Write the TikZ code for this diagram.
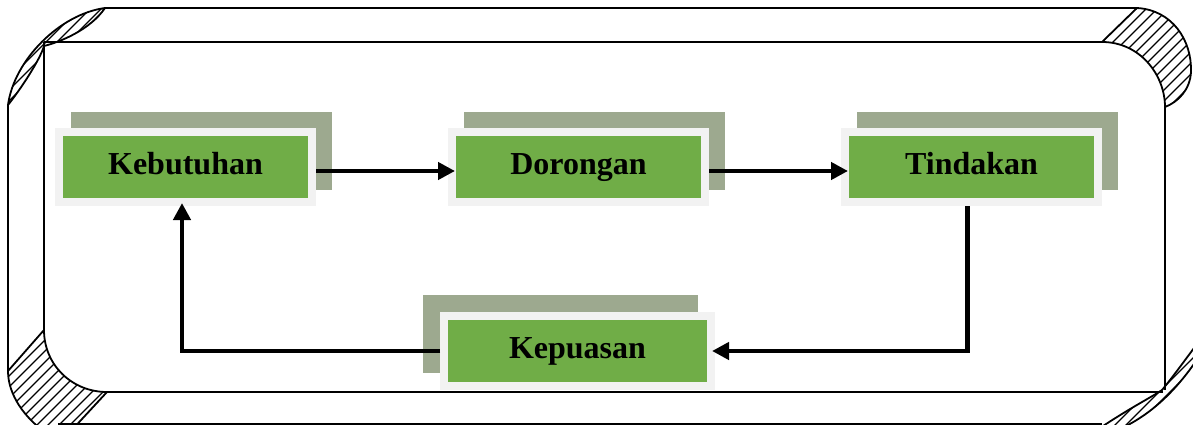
\documentclass[tikz,border=0pt]{standalone}
\usepackage{fontspec}
\setmainfont{Liberation Serif}
\usetikzlibrary{arrows.meta}
\definecolor{boxgreen}{HTML}{70AD47}
\definecolor{boxrim}{HTML}{F2F2F2}
\definecolor{boxshadow}{HTML}{9DA98F}
\pgfdeclarelayer{bg}
\pgfsetlayers{bg,main}
\begin{document}
\begin{tikzpicture}[x=1pt,y=-1pt,
  frameline/.style={line width=1.8pt, line join=round},
  hatchline/.style={line width=1.3pt},
  stepbox/.style={rectangle, fill=boxgreen, draw=boxrim, line width=8pt,
    minimum width=253pt, minimum height=70pt, inner sep=0pt, outer sep=4pt,
    text height=22pt, text depth=8pt,
    font=\fontsize{32}{38}\selectfont\bfseries},
  conn/.style={line width=4.5pt, -{Triangle[length=17pt,width=17pt]}},
]
\useasboundingbox (0,0) rectangle (1193,425);
\clip (0,0) rectangle (1193,425);

% hatched corners
\begin{scope}
\clip (8,105) .. controls (14,60) and (60,14) .. (105,8) .. controls (90,30) and (60,42) .. (44,46) .. controls (40,60) and (20,90) .. (8,105) -- cycle;
\foreach \c in {0,11,...,1700} \draw[hatchline] (\c,0) -- ++(-600,600);
\end{scope}
\begin{scope}
\clip (1102,42) -- (1137,8) .. controls (1172,10) and (1192,40) .. (1191,72) .. controls (1190,90) and (1178,102) .. (1165,107) .. controls (1165,75) and (1140,42) .. (1102,42) -- cycle;
\foreach \c in {0,11,...,1700} \draw[hatchline] (\c,0) -- ++(-600,600);
\end{scope}
\begin{scope}
\clip (44,330) .. controls (44,365) and (72,392) .. (107,392) -- (70,432) -- (45,432) .. controls (25,418) and (8,395) .. (8,371) -- cycle;
\foreach \c in {0,11,...,1700} \draw[hatchline] (\c,0) -- ++(-600,600);
\end{scope}
\begin{scope}
\clip (1100,428) .. controls (1130,408) and (1150,398) .. (1162,390) .. controls (1172,378) and (1185,360) .. (1200,340) -- (1200,355) .. controls (1185,378) and (1160,410) .. (1122,428) -- cycle;
\foreach \c in {0,11,...,1700} \draw[hatchline] (\c,0) -- ++(-600,600);
\end{scope}

% crescent outlines
\draw[frameline] (8,105) .. controls (14,60) and (60,14) .. (105,8) .. controls (90,30) and (60,42) .. (44,46) .. controls (40,60) and (20,90) .. (8,105) -- cycle;
\draw[frameline] (1102,42) -- (1137,8) .. controls (1172,10) and (1192,40) .. (1191,72) .. controls (1190,90) and (1178,102) .. (1165,107) .. controls (1165,75) and (1140,42) .. (1102,42) -- cycle;
\draw[frameline] (44,330) .. controls (44,365) and (72,392) .. (107,392) -- (70,432) -- (45,432) .. controls (25,418) and (8,395) .. (8,371) -- cycle;
\draw[frameline] (1100,428) .. controls (1130,408) and (1150,398) .. (1162,390) .. controls (1172,378) and (1185,360) .. (1200,340) -- (1200,355) .. controls (1185,378) and (1160,410) .. (1122,428) -- cycle;

% frame lines
\draw[frameline] (105,8) -- (1137,8);
\draw[frameline] (8,105) -- (8,371);
\draw[frameline] (58,424) -- (1102,424);
\draw[frameline] (44,42) -- (1102,42);
\draw[frameline] (44,42) -- (44,330);
\draw[frameline] (1165,107) -- (1165,390);
\draw[frameline] (107,392) -- (1163,392);

% boxes
\node[stepbox] (keb) at (185.5,167) {Kebutuhan};
\node[stepbox] (dor) at (578.5,167) {Dorongan};
\node[stepbox] (tin) at (971.5,167) {Tindakan};
\node[stepbox, minimum width=267pt] (kep) at (577.5,351) {Kepuasan};

\begin{pgfonlayer}{bg}
\foreach \n in {keb,dor,tin}
  \fill[boxshadow] ([shift={(16,-16)}]\n.north west) rectangle ([shift={(16,-16)}]\n.south east);
\fill[boxshadow] ([shift={(-17,-17)}]kep.north west) rectangle ([shift={(-17,-17)}]kep.south east);
\end{pgfonlayer}

% connectors
\draw[conn, shorten >=-7pt] ([yshift=-4pt]keb.east) -- ([yshift=-4pt]dor.west);
\draw[conn, shorten >=-7pt] ([yshift=-4pt]dor.east) -- ([yshift=-4pt]tin.west);
\draw[conn, shorten >=-3pt] ([xshift=-4pt]tin.south) |- (kep.east);
\draw[conn, shorten >=-3pt] (kep.west) -| ([xshift=-3.5pt]keb.south);
\end{tikzpicture}
\end{document}
